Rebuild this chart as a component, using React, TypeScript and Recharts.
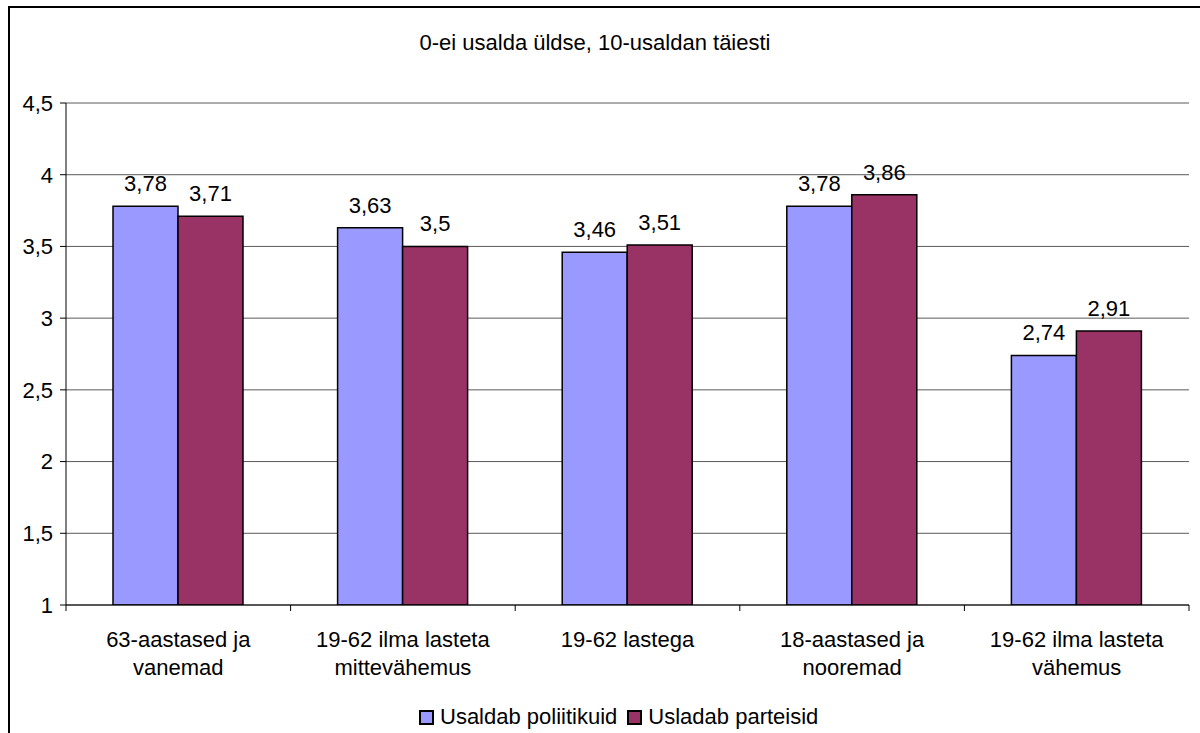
import { BarChart, Bar, XAxis, YAxis, CartesianGrid, LabelList, Legend } from 'recharts';

const categories = [
  ['63-aastased ja', 'vanemad'],
  ['19-62 ilma lasteta', 'mittevähemus'],
  ['19-62 lastega'],
  ['18-aastased ja', 'nooremad'],
  ['19-62 ilma lasteta', 'vähemus'],
];
const politicians = [3.78, 3.63, 3.46, 3.78, 2.74];
const parties = [3.71, 3.5, 3.51, 3.86, 2.91];
const yTicks = [1, 1.5, 2, 2.5, 3, 3.5, 4, 4.5];

const seriesNames = ['Usaldab poliitikuid', 'Usladab parteisid'];
const colors = ['#9999ff', '#993366'];

const data = categories.map((c, i) => ({
  name: c.join(' '),
  lines: c,
  pol: politicians[i],
  par: parties[i],
}));

const FONT = '"Liberation Sans", Arial, sans-serif';
const FS = 22;
const comma = (v: any) => String(v).replace('.', ',');

const CategoryTick = (props: any) => {
  const { x, y, payload, index, visibleTicksCount } = props;
  const half = payload.offset ?? 112;
  const lines: string[] = data[index]?.lines ?? [payload.value];
  return (
    <g>
      <line x1={x - half} y1={y} x2={x - half} y2={y + 6} stroke="#000" />
      {index === visibleTicksCount - 1 && (
        <line x1={x + half} y1={y} x2={x + half} y2={y + 6} stroke="#000" />
      )}
      <text textAnchor="middle" fontSize={FS} fontFamily={FONT} fill="#000">
        {lines.map((l, i) => (
          <tspan key={i} x={x} y={y + 42 + i * 28}>{l}</tspan>
        ))}
      </text>
    </g>
  );
};

const LegendContent = () => (
  <div style={{ display: 'flex', alignItems: 'center', fontFamily: FONT, fontSize: FS, color: '#000', whiteSpace: 'nowrap' }}>
    {seriesNames.map((n, i) => (
      <span key={n} style={{ display: 'flex', alignItems: 'center', marginRight: 10 }}>
        <span style={{ width: 11, height: 11, background: colors[i], border: '2px solid #000', marginRight: 6 }} />
        {n}
      </span>
    ))}
  </div>
);

export default function App() {
  return (
    <div style={{ position: 'absolute', left: 0, top: 0, width: 1200, height: 733, overflow: 'hidden', background: '#fff' }}>
      <div style={{ position: 'absolute', left: 8, top: 6, width: 1300, height: 800, borderLeft: '2px solid #000', borderTop: '2px solid #000' }} />
      <div style={{ position: 'absolute', left: 0, top: 30, width: 1190, textAlign: 'center', fontFamily: FONT, fontSize: FS, color: '#000' }}>
        0-ei usalda üldse, 10-usaldan täiesti
      </div>
      <div style={{ position: 'absolute', left: 0, top: 0 }}>
        <BarChart width={1200} height={733} data={data} margin={{ top: 103, right: 11, bottom: 0, left: 8 }} barGap={0}>
          <CartesianGrid vertical={false} stroke="#5a5a5a" />
          <XAxis
            dataKey="name"
            height={128}
            tickSize={0}
            tickMargin={0}
            tickLine={false}
            axisLine={{ stroke: '#000' }}
            interval={0}
            tick={<CategoryTick />}
          />
          <YAxis
            width={58}
            domain={[1, 4.5]}
            ticks={yTicks}
            allowDataOverflow
            tickSize={6}
            tickMargin={7}
            tickFormatter={comma}
            axisLine={{ stroke: '#000' }}
            tickLine={{ stroke: '#000' }}
            tick={{ fontSize: FS, fontFamily: FONT, fill: '#000' }}
          />
          <Legend
            layout="horizontal"
            align="center"
            verticalAlign="middle"
            content={<LegendContent />}
            wrapperStyle={{ position: 'absolute', top: 704, left: 419, width: 'auto' }}
          />
          <Bar dataKey="pol" name={seriesNames[0]} fill={colors[0]} stroke="#000" strokeWidth={1.5} barSize={65} isAnimationActive={false}>
            <LabelList dataKey="pol" position="top" offset={15} formatter={comma} style={{ fontSize: FS, fontFamily: FONT, fill: '#000' }} />
          </Bar>
          <Bar dataKey="par" name={seriesNames[1]} fill={colors[1]} stroke="#000" strokeWidth={1.5} barSize={65} isAnimationActive={false}>
            <LabelList dataKey="par" position="top" offset={15} formatter={comma} style={{ fontSize: FS, fontFamily: FONT, fill: '#000' }} />
          </Bar>
        </BarChart>
      </div>
    </div>
  );
}
